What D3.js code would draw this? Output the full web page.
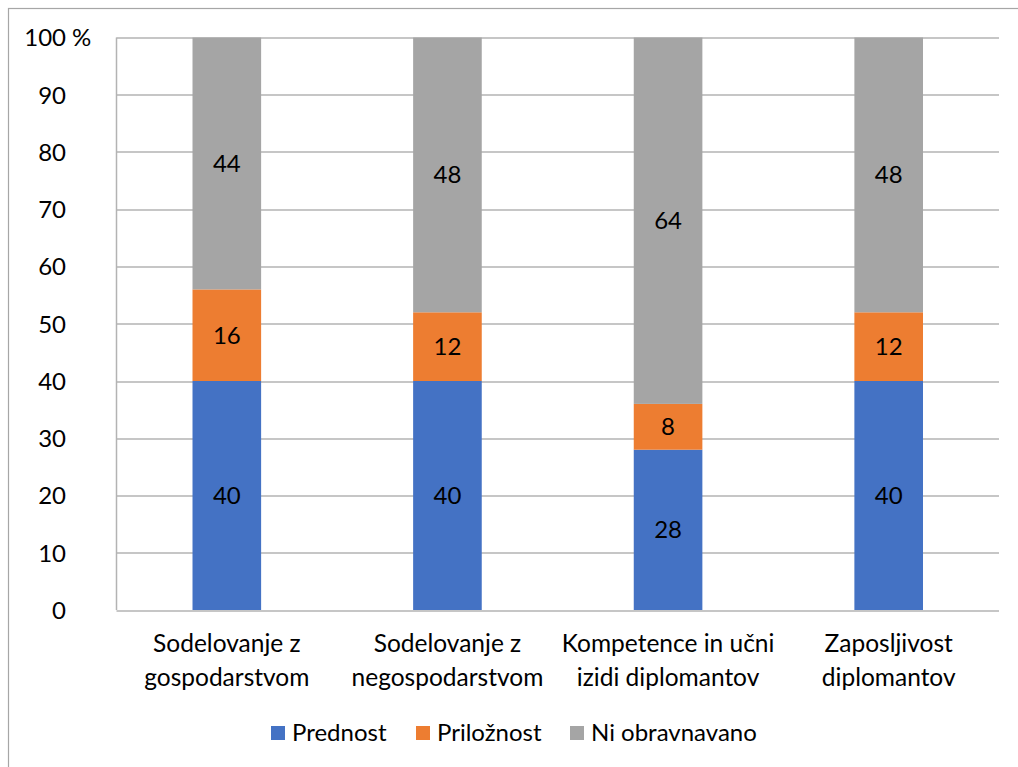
<!DOCTYPE html>
<html>
<head>
<meta charset="utf-8">
<script src="https://cdn.jsdelivr.net/npm/d3@7"></script>
<style>
  body { margin: 0; background: #fff; }
  text { font-family: Lato, "Open Sans", sans-serif; fill: #000; }
</style>
</head>
<body>
<div id="chart-container"></div>
<script>
// chart data
var categories = [
  ["Sodelovanje z", "gospodarstvom"],
  ["Sodelovanje z", "negospodarstvom"],
  ["Kompetence in učni", "izidi diplomantov"],
  ["Zaposljivost", "diplomantov"]
];
var seriesNames = ["Prednost", "Priložnost", "Ni obravnavano"];
var prednost = [40, 40, 28, 40];
var priloznost = [16, 12, 8, 12];
var niObravnavano = [44, 48, 64, 48];
var yTicks = [0, 10, 20, 30, 40, 50, 60, 70, 80, 90, 100];
var colors = ["#4472C4", "#ED7D31", "#A5A5A5"];

var W = 1018, H = 767;
var margin = {top: 37.5, right: 19, bottom: 157, left: 116.5}
  , width = W - margin.left - margin.right
  , height = H - margin.top - margin.bottom;

var svg = d3.select("#chart-container").append("svg")
  .attr("width", W).attr("height", H);

// outer frame
svg.append("rect")
  .attr("x", 8.5).attr("y", 8.5)
  .attr("width", W + 20).attr("height", H + 20)
  .attr("fill", "none").attr("stroke", "#a6a6a6").attr("stroke-width", 1.2);

var main = svg.append("g")
  .attr("transform", "translate(" + margin.left + "," + margin.top + ")");

var x = d3.scaleBand()
  .domain(d3.range(categories.length))
  .range([0, width])
  .paddingInner(0.689).paddingOuter(0.3445);

var y = d3.scaleLinear().domain([0, 100]).range([height, 0]);

// gridlines
main.selectAll("line.grid")
  .data(yTicks)
  .enter().append("line")
    .attr("class", "grid")
    .attr("x1", 0).attr("x2", width)
    .attr("y1", function (d) { return Math.round(y(d)) + 0.5; })
    .attr("y2", function (d) { return Math.round(y(d)) + 0.5; })
    .attr("stroke", "#b3b3b3").attr("stroke-width", 1.5);

main.append("line")
  .attr("x1", 0).attr("x2", 0)
  .attr("y1", 0).attr("y2", height)
  .attr("stroke", "#b3b3b3").attr("stroke-width", 1.5);

// y labels
var yAxis = d3.axisLeft(y).tickValues(yTicks).tickSize(0).tickPadding(0)
  .tickFormat(function (d) { return d; });
var ya = main.append("g").call(yAxis);
ya.select(".domain").remove();
ya.selectAll("text")
  .attr("x", 66 - margin.left).attr("dy", "0.35em")
  .style("font-size", "24px").attr("text-anchor", "end")
  .style("font-family", "Lato, 'Open Sans', sans-serif");
ya.selectAll(".tick").filter(function (d) { return d === 100; })
  .append("text")
    .attr("x", 66 - margin.left + 6).attr("dy", "0.35em")
    .attr("text-anchor", "start")
    .style("font-size", "24px")
    .attr("fill", "#000")
    .text("%");

// stacked bars
var rows = categories.map(function (c, i) {
  return {i: i, vals: [prednost[i], priloznost[i], niObravnavano[i]]};
});
var stackData = [];
rows.forEach(function (r) {
  var base = 0;
  r.vals.forEach(function (v, s) {
    stackData.push({i: r.i, s: s, y0: base, y1: base + v, v: v});
    base += v;
  });
});

main.selectAll("rect.bar")
  .data(stackData)
  .enter().append("rect")
    .attr("class", "bar")
    .attr("x", function (d) { return x(d.i); })
    .attr("width", x.bandwidth())
    .attr("y", function (d) { return y(d.y1); })
    .attr("height", function (d) { return y(d.y0) - y(d.y1); })
    .attr("fill", function (d) { return colors[d.s]; });

main.selectAll("text.val")
  .data(stackData)
  .enter().append("text")
    .attr("class", "val")
    .attr("x", function (d) { return x(d.i) + x.bandwidth() / 2; })
    .attr("y", function (d) { return y((d.y0 + d.y1) / 2); })
    .attr("dy", "0.35em")
    .attr("text-anchor", "middle")
    .style("font-size", "24px")
    .text(function (d) { return d.v; });

// category labels
var cat = main.selectAll("text.cat")
  .data(categories)
  .enter().append("text")
    .attr("class", "cat")
    .attr("text-anchor", "middle")
    .style("font-size", "24.5px")
    .attr("transform", function (d, i) {
      return "translate(" + (x(i) + x.bandwidth() / 2) + "," + (height + 42) + ")";
    });
cat.selectAll("tspan")
  .data(function (d) { return d; })
  .enter().append("tspan")
    .attr("x", 0)
    .attr("dy", function (d, j) { return j === 0 ? 0 : 34; })
    .text(function (d) { return d; });

// legend
var legendX = [271, 416, 570];
var legend = svg.selectAll("g.legend")
  .data(seriesNames)
  .enter().append("g")
    .attr("class", "legend")
    .attr("transform", function (d, i) { return "translate(" + legendX[i] + ",733)"; });
legend.append("rect")
  .attr("x", 0).attr("y", -7)
  .attr("width", 14).attr("height", 14)
  .attr("fill", function (d, i) { return colors[i]; });
legend.append("text")
  .attr("x", 21).attr("dy", "0.35em")
  .style("font-size", "24px")
  .text(function (d) { return d; });
</script>
</body>
</html>
